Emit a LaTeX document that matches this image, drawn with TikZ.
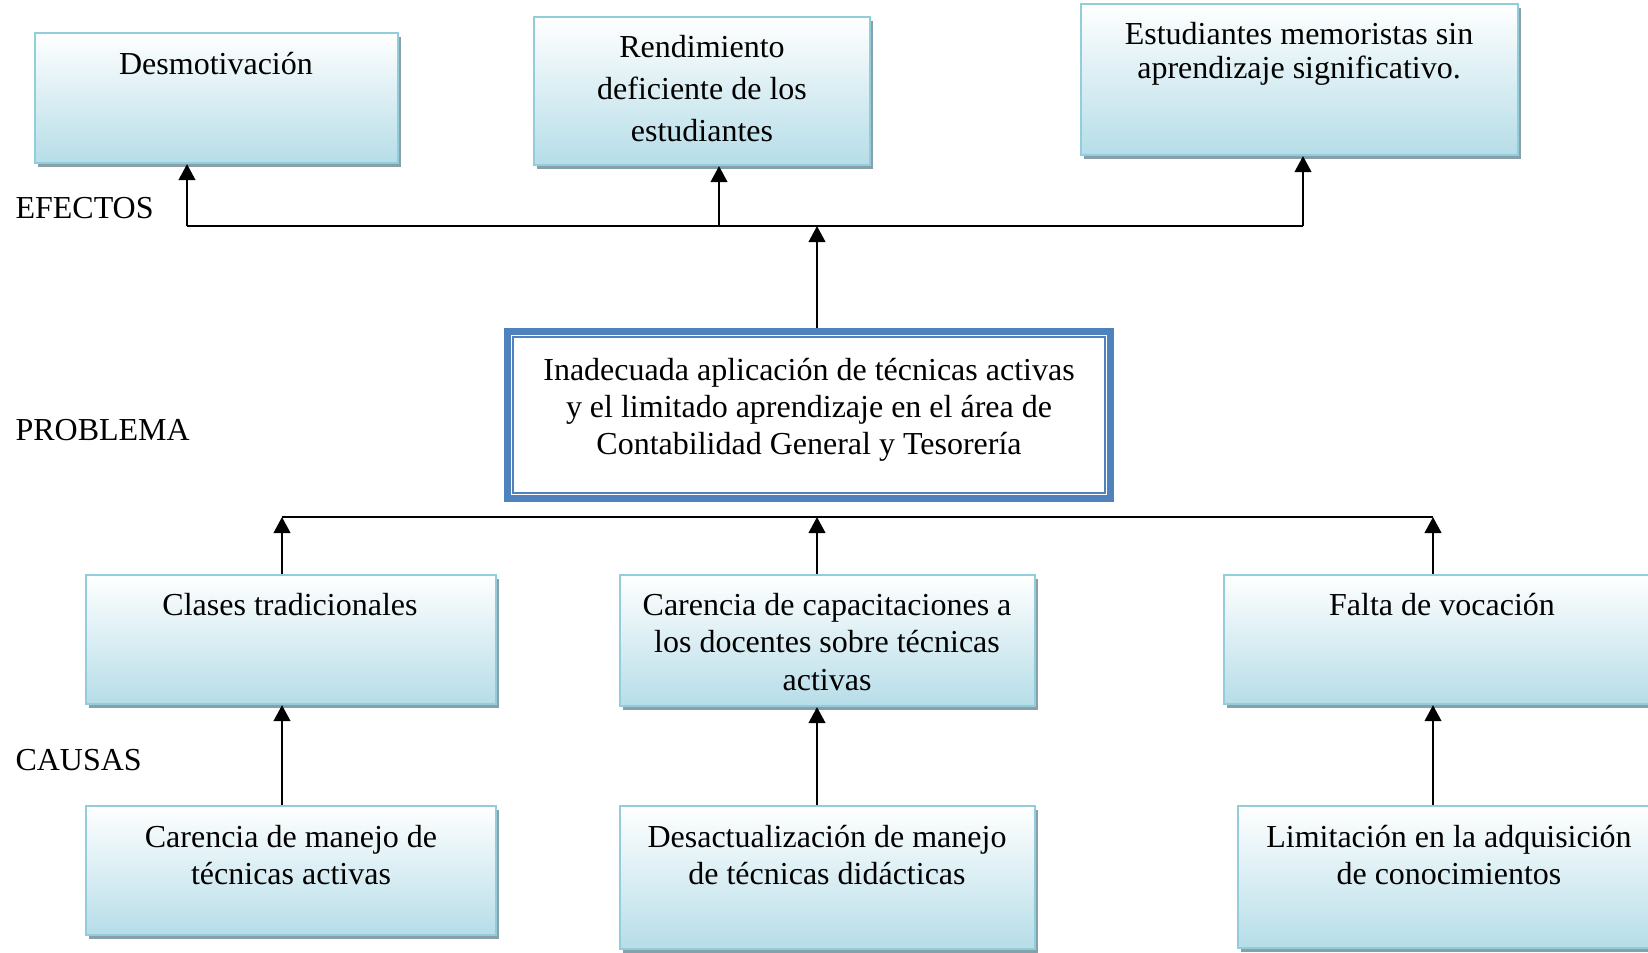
\documentclass[tikz,border=0pt]{standalone}
\usepackage{fontspec}
\setmainfont{Liberation Serif}
\usetikzlibrary{positioning}
\usetikzlibrary{arrows.meta}
\usetikzlibrary{shadows}
\definecolor{boxline}{RGB}{146,205,220}
\definecolor{boxfill}{RGB}{182,221,232}
\definecolor{boxshade}{RGB}{122,150,160}
\definecolor{probblue}{RGB}{79,129,189}
\tikzset{
  causebox/.style={draw=boxline, line width=0.8pt, top color=white, bottom color=boxfill, inner sep=0pt,
    drop shadow={shadow xshift=1.1pt, shadow yshift=-1.4pt, fill=boxshade, opacity=0.9}},
  boxtext/.style={align=center, font=\fontsize{12}{13.9}\selectfont, inner sep=0pt},
  arr/.style={-{Triangle[length=6pt,width=6.2pt]}, line width=0.9pt},
  link/.style={line width=0.9pt},
  sidelabel/.style={anchor=west, font=\fontsize{12}{14}\selectfont, inner sep=0pt}
}
\begin{document}
\begin{tikzpicture}[x=0.375pt, y=-0.375pt]
\useasboundingbox (0,0) rectangle (1648,952);
\clip (0,0) rectangle (1648,952);

% efectos
\node [causebox, minimum width=136.1pt, minimum height=48.75pt] (e1) at (216.5,98) {};
\node [causebox, minimum width=126pt, minimum height=55.5pt] (e2) at (702,91) {};
\node [causebox, minimum width=163.9pt, minimum height=56.6pt] (e3) at (1299.5,79.5) {};
\node [boxtext] (e1t) at (216,64) {Desmotivación};
\node [boxtext, font=\fontsize{12}{15.75}\selectfont] (e2t) at (702,89) {Rendimiento\\deficiente de los\\estudiantes};
\node [boxtext, font=\fontsize{12}{12.75}\selectfont] (e3t) at (1299,54) {Estudiantes memoristas sin\\aprendizaje significativo.};

% problema
\node [draw=probblue, line width=2.6pt, fill=white, minimum width=226pt, minimum height=62.6pt, inner sep=0pt] (prob) at (809,415) {};
\draw [probblue, line width=0.9pt] ([shift={(3.3pt,3.3pt)}]prob.south west) rectangle ([shift={(-3.3pt,-3.3pt)}]prob.north east);
\node [boxtext] (probt) at (809,410) {Inadecuada aplicación de técnicas activas\\y el limitado aprendizaje en el área de\\Contabilidad General y Tesorería};

% causas
\node [causebox, minimum width=153.75pt, minimum height=48.4pt] (c1) at (291,639.5) {};
\node [causebox, minimum width=155.6pt, minimum height=49.1pt] (c2) at (827.5,640.5) {};
\node [causebox, minimum width=163.5pt, minimum height=48.4pt] (c3) at (1442,639.5) {};
\node [boxtext] (c1t) at (290,605) {Clases tradicionales};
\node [boxtext] (c2t) at (827,642) {Carencia de capacitaciones a\\los docentes sobre técnicas\\activas};
\node [boxtext] (c3t) at (1442,605) {Falta de vocación};

\node [causebox, minimum width=153.75pt, minimum height=48.4pt] (d1) at (291,870.5) {};
\node [causebox, minimum width=155.6pt, minimum height=53.6pt] (d2) at (827.5,877.5) {};
\node [causebox, minimum width=158.25pt, minimum height=53.25pt] (d3) at (1449,877) {};
\node [boxtext] (d1t) at (291,855) {Carencia de manejo de\\técnicas activas};
\node [boxtext] (d2t) at (827,855) {Desactualización de manejo\\de técnicas didácticas};
\node [boxtext] (d3t) at (1449,855) {Limitación en la adquisición\\de conocimientos};

% rotulos
\node [sidelabel] (lbleff) at (15,208) {EFECTOS};
\node [sidelabel] (lblprob) at (15,430) {PROBLEMA};
\node [sidelabel] (lblcaus) at (15,760) {CAUSAS};

% conectores
\coordinate (ej1) at (187,226);
\coordinate (ej2) at (719,226);
\coordinate (ej3) at (1303,226);
\coordinate (ejc) at (817,226);
\draw [link] (ej1) -- (ej3);
\draw [arr] (ej1) -- (ej1 |- e1.south);
\draw [arr] (ej2) -- (ej2 |- e2.south);
\draw [arr] (ej3) -- (ej3 |- e3.south);
\draw [arr] (prob.north -| ejc) -- (ejc);

\coordinate (cj1) at (282,517);
\coordinate (cj2) at (817,517);
\coordinate (cj3) at (1433,517);
\draw [link] (cj1) -- (cj3);
\draw [arr] (c1.north -| cj1) -- (cj1);
\draw [arr] (c2.north -| cj2) -- (cj2);
\draw [arr] (c3.north -| cj3) -- (cj3);

\draw [arr] (d1.north -| cj1) -- (c1.south -| cj1);
\draw [arr] (d2.north -| cj2) -- (c2.south -| cj2);
\draw [arr] (d3.north -| cj3) -- (c3.south -| cj3);
\end{tikzpicture}
\end{document}
